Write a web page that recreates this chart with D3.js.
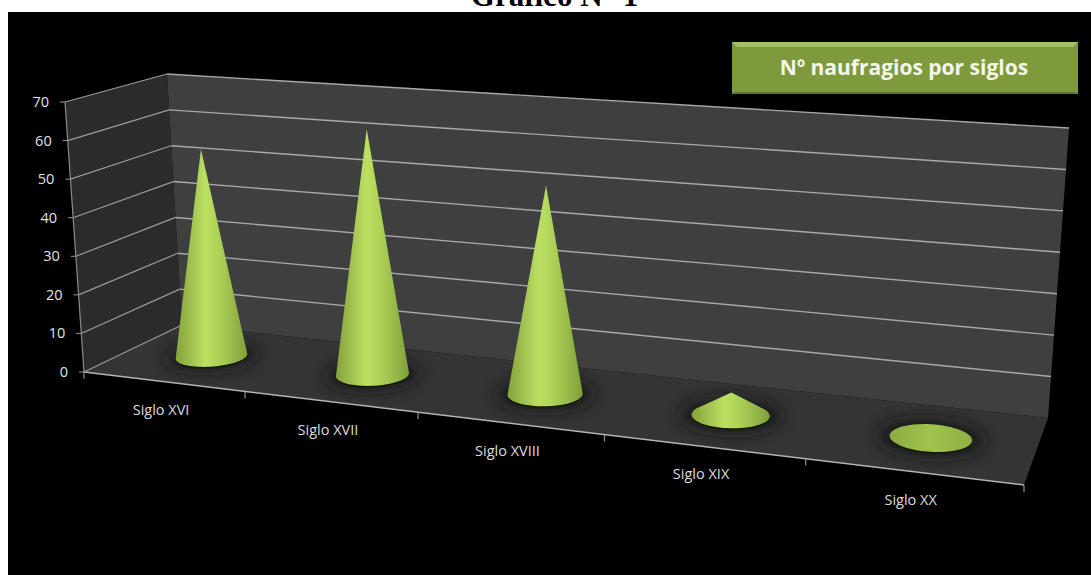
<!DOCTYPE html>
<html><head><meta charset="utf-8">
<script src="https://cdn.jsdelivr.net/npm/d3@7"></script>
<style>html,body{margin:0;padding:0;background:#fff}svg{display:block}</style>
</head><body><svg id="c" width="1091" height="575"></svg>
<script>
const categories = ["Siglo XVI","Siglo XVII","Siglo XVIII","Siglo XIX","Siglo XX"];
const values = [55,63.5,52.5,5.5,0];
const yTicks = [0,10,20,30,40,50,60,70];
const chartTitle = "Gráfico N° 1";
const legendText = "Nº naufragios por siglos";

const svg = d3.select("#c");
const defs = svg.append("defs");
svg.append("text").attr("x",554.5).attr("y",6).attr("text-anchor","middle")
  .attr("font-family","Liberation Serif").attr("font-weight","bold").attr("font-size",31).attr("fill","#000").text(chartTitle);
svg.append("rect").attr("x",8).attr("y",12).attr("width",1083).attr("height",563).attr("fill","#000");

// perspective box: floor homography (u across, v depth: 0 front, 1 back) plus height vectors at the corners
const floorQ=[[84,372],[1024,485],[182,325],[1048,418]];
const upQ=[[-19,-270],[25,-310],[-15,-251],[21,-290]];
function solve(A,b){const n=b.length,M=A.map((r,i)=>[...r,b[i]]);
 for(let i=0;i<n;i++){let p=i;for(let k=i;k<n;k++)if(Math.abs(M[k][i])>Math.abs(M[p][i]))p=k;[M[i],M[p]]=[M[p],M[i]];
  for(let k=0;k<n;k++)if(k!==i){const f=M[k][i]/M[i][i];for(let j=i;j<=n;j++)M[k][j]-=f*M[i][j];}}
 return M.map((r,i)=>r[n]/r[i]);}
function homography(q){const uv=[[0,0],[1,0],[0,1],[1,1]],A=[],B=[];
 uv.forEach(([u,v],i)=>{const p=q[i];A.push([u,v,1,0,0,0,-u*p[0],-v*p[0]]);B.push(p[0]);A.push([0,0,0,u,v,1,-u*p[1],-v*p[1]]);B.push(p[1]);});
 const H=solve(A,B);
 return (u,v)=>{const w=H[6]*u+H[7]*v+1;return [(H[0]*u+H[1]*v+H[2])/w,(H[3]*u+H[4]*v+H[5])/w];};}
const Hf=homography(floorQ);
const mix=(a,b,t)=>a+(b-a)*t;
function P(u,v,h=0){
  const a=Hf(u,v),l=Hf(0,v),r=Hf(1,v),t=(a[0]-l[0])/(r[0]-l[0]);
  const dep=(a[1]-mix(floorQ[0][1],floorQ[1][1],t))/(mix(floorQ[2][1],floorQ[3][1],t)-mix(floorQ[0][1],floorQ[1][1],t));
  const up=[0,1].map(k=>mix(mix(upQ[0][k],upQ[1][k],t),mix(upQ[2][k],upQ[3][k],t),dep));
  return [a[0]+up[0]*h,a[1]+up[1]*h];
}

const uScale=d3.scaleBand().domain(categories).range([0,1]);
const hScale=d3.scaleLinear().domain([0,70]).range([0,1]);
const poly=pts=>"M"+pts.map(p=>p.join(",")).join("L")+"Z";

const gWalls=svg.append("g");
const wall=(pts,fill)=>gWalls.append("path").attr("d",poly(pts)).attr("fill",fill);
wall([P(0,0,0),P(0,1,0),P(0,1,1),P(0,0,1)],"#2b2b2b");
wall([P(0,1,0),P(1,1,0),P(1,1,1),P(0,1,1)],"#3f3f3f");
wall([P(0,0,0),P(1,0,0),P(1,1,0),P(0,1,0)],"#343434");

const seg=(a,b,col,w)=>svg.append("line").attr("x1",a[0]).attr("y1",a[1]).attr("x2",b[0]).attr("y2",b[1]).attr("stroke",col).attr("stroke-width",w);
yTicks.forEach(t=>{const h=hScale(t);
  seg(P(0,0,h),P(0,1,h),"#9a9a9a",1.2);
  if(t>0) seg(P(0,1,h),P(1,1,h),"#a8a8a8",1.4);
  const o=P(0,0,h);
  seg([o[0]-5,o[1]],o,"#9a9a9a",1);
  svg.append("text").attr("x",o[0]-16).attr("y",o[1]+5).attr("text-anchor","end")
    .attr("font-family","Open Sans").attr("font-size",14.5).attr("fill","#e2e2e2").text(t);
});
seg(P(0,0,0),P(0,0,1),"#8c8c8c",1.2);
seg(P(0,0,0),P(1,0,0),"#b4b4b4",1.4);
d3.range(0,6).forEach(i=>{const p=P(i/5,0,0);seg(p,[p[0],p[1]+7],"#aaaaaa",1);});
categories.forEach(c=>{const p=P(uScale(c)+uScale.bandwidth()/2,0,0);
  svg.append("text").attr("x",p[0]-2).attr("y",p[1]+33).attr("text-anchor","middle")
   .attr("font-family","Open Sans").attr("font-size",14.5).attr("fill","#dcdcdc").text(c);});

const grad=defs.append("linearGradient").attr("id","cone");
[[0,"#84a23a"],[.18,"#9cbd4c"],[.42,"#bde063"],[.6,"#aed258"],[.85,"#92b446"],[1,"#7f9e38"]]
  .forEach(([o,c])=>grad.append("stop").attr("offset",o).attr("stop-color",c));
const flat=defs.append("linearGradient").attr("id","flat");
[[0,"#8dae40"],[.5,"#a0c24e"],[1,"#8fb042"]].forEach(([o,c])=>flat.append("stop").attr("offset",o).attr("stop-color",c));
defs.append("filter").attr("id","sh").attr("x","-50%").attr("y","-50%").attr("width","200%").attr("height","200%")
  .append("feGaussianBlur").attr("stdDeviation",8);
const ru=.039,rv=.205,vc=.5;
const ring=(u,r=1)=>d3.range(0,72).map(i=>{const a=i/72*2*Math.PI;return P(u+r*ru*Math.cos(a),vc+r*rv*Math.sin(a),0);});
categories.forEach((c,i)=>{
  const u=uScale(c)+uScale.bandwidth()/2;
  svg.append("path").attr("d",poly(ring(u,1.3))).attr("fill","#141414").attr("filter","url(#sh)").attr("opacity",.9);
  const base=ring(u);
  svg.append("path").attr("d",poly(base.map(p=>[p[0],p[1]+1.5]))).attr("fill","#141a08");
  const pts=values[i]>0?[...base,P(u,vc,hScale(values[i]))]:base;
  svg.append("path").attr("d",poly(d3.polygonHull(pts))).attr("fill",values[i]>0?"url(#cone)":"url(#flat)");
});

const lb={x:732,y:42,w:346,h:52};
svg.append("rect").attr("x",lb.x).attr("y",lb.y).attr("width",lb.w).attr("height",lb.h).attr("fill","#7f9a3d");
svg.append("path").attr("d",`M${lb.x},${lb.y}H${lb.x+lb.w}l-5,5H${lb.x+5}Z`).attr("fill","#a3c25f");
svg.append("path").attr("d",`M${lb.x},${lb.y+lb.h}H${lb.x+lb.w}l-3,-2H${lb.x+3}Z`).attr("fill","#5f7430");
svg.append("text").attr("x",lb.x+lb.w/2-1).attr("y",lb.y+33).attr("text-anchor","middle")
  .attr("font-family","Open Sans").attr("font-weight","bold").attr("font-size",21).attr("fill","#f4f6ea").text(legendText);
</script></body></html>
